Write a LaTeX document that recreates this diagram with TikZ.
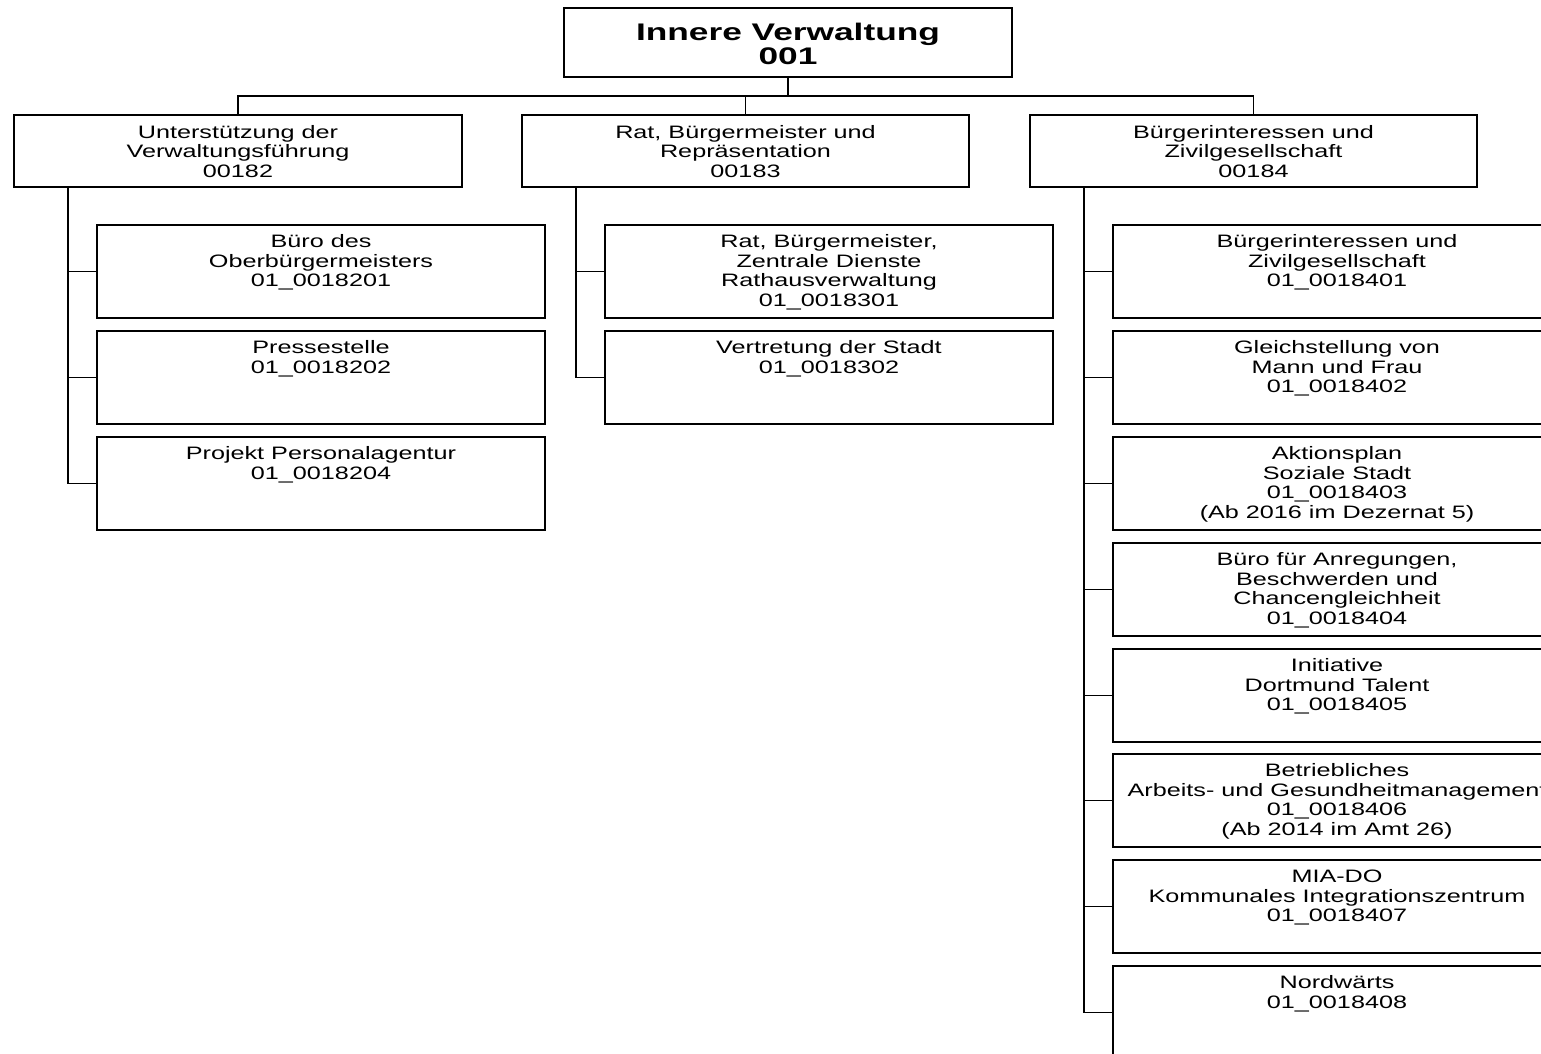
\documentclass[tikz,border=0pt]{standalone}
\usepackage{fontspec}
\setmainfont{Liberation Sans}[FakeStretch=1.40]
\newfontfamily\topfont{Liberation Sans}[FakeStretch=1.47]
\newcommand\bxt[4]{\parbox[c][#2][t]{#1}{\centering\rule{0pt}{#3}#4\par}}
\tikzset{
  org/.style={draw, line width=1.9pt, inner sep=0pt, outer sep=0pt, anchor=north west, fill=white},
  lvl/.style={org, font=\fontsize{18}{19.5}\selectfont},
  link/.style={line width=1.9pt},
}
\begin{document}
\begin{tikzpicture}[x=1pt,y=-1pt]
\useasboundingbox (0,0) rectangle (1541,1053);
\clip (0,0) rectangle (1541,1053);
\fill[white] (0,0) rectangle (1541,1053);

% top
\node[org, font=\topfont\fontsize{24}{24.5}\selectfont\bfseries] (top) at (564,8)
  {\bxt{448pt}{69pt}{32pt}{Innere Verwaltung\\001}};

% level 2
\node[lvl] (b1) at (14,115) {\bxt{448pt}{72pt}{23pt}{Unterstützung der\\Verwaltungsführung\\00182}};
\node[lvl] (b2) at (522,115) {\bxt{447pt}{72pt}{23pt}{Rat, Bürgermeister und\\Repräsentation\\00183}};
\node[lvl] (b3) at (1030,115) {\bxt{447pt}{72pt}{23pt}{Bürgerinteressen und\\Zivilgesellschaft\\00184}};

% column 1
\node[lvl] (c11) at (97,225) {\bxt{448pt}{93pt}{22.5pt}{Büro des\\Oberbürgermeisters\\01\_0018201}};
\node[lvl] (c12) at (97,331) {\bxt{448pt}{93pt}{22.5pt}{Pressestelle\\01\_0018202}};
\node[lvl] (c13) at (97,437) {\bxt{448pt}{93pt}{22.5pt}{Projekt Personalagentur\\01\_0018204}};

% column 2
\node[lvl] (c21) at (605,225) {\bxt{448pt}{93pt}{22.5pt}{Rat, Bürgermeister,\\Zentrale Dienste\\Rathausverwaltung\\01\_0018301}};
\node[lvl] (c22) at (605,331) {\bxt{448pt}{93pt}{22.5pt}{Vertretung der Stadt\\01\_0018302}};

% column 3
\node[lvl] (c31) at (1113,225) {\bxt{448pt}{93pt}{22.5pt}{Bürgerinteressen und\\Zivilgesellschaft\\01\_0018401}};
\node[lvl] (c32) at (1113,331) {\bxt{448pt}{93pt}{22.5pt}{Gleichstellung von\\Mann und Frau\\01\_0018402}};
\node[lvl] (c33) at (1113,437) {\bxt{448pt}{93pt}{22.5pt}{Aktionsplan\\Soziale Stadt\\01\_0018403\\(Ab 2016 im Dezernat 5)}};
\node[lvl] (c34) at (1113,543) {\bxt{448pt}{93pt}{22.5pt}{Büro für Anregungen,\\Beschwerden und\\Chancengleichheit\\01\_0018404}};
\node[lvl] (c35) at (1113,649) {\bxt{448pt}{93pt}{22.5pt}{Initiative\\Dortmund Talent\\01\_0018405}};
\node[lvl] (c36) at (1113,754) {\bxt{448pt}{93pt}{22.5pt}{Betriebliches\\Arbeits- und Gesundheitmanagement\\01\_0018406\\(Ab 2014 im Amt 26)}};
\node[lvl] (c37) at (1113,860) {\bxt{448pt}{93pt}{22.5pt}{MIA-DO\\Kommunales Integrationszentrum\\01\_0018407}};
\node[lvl] (c38) at (1113,966) {\bxt{448pt}{93pt}{22.5pt}{Nordwärts\\01\_0018408}};

% connectors top level
\draw[link] (top.south) -- ++(0,19) coordinate (bus);
\draw[link] (b1.north) |- (bus) -| (b3.north);
\draw[link] (b2.north) -- (b2.north |- bus);

% spines
\draw[link] ([xshift=54pt]b1.south west) |- (c13.west);
\foreach \c in {c11,c12} \draw[link] (\c.west) -- ++(-29,0);
\draw[link] ([xshift=54pt]b2.south west) |- (c22.west);
\draw[link] (c21.west) -- ++(-29,0);
\draw[link] ([xshift=54pt]b3.south west) |- (c38.west);
\foreach \c in {c31,c32,c33,c34,c35,c36,c37} \draw[link] (\c.west) -- ++(-29,0);
\end{tikzpicture}
\end{document}
